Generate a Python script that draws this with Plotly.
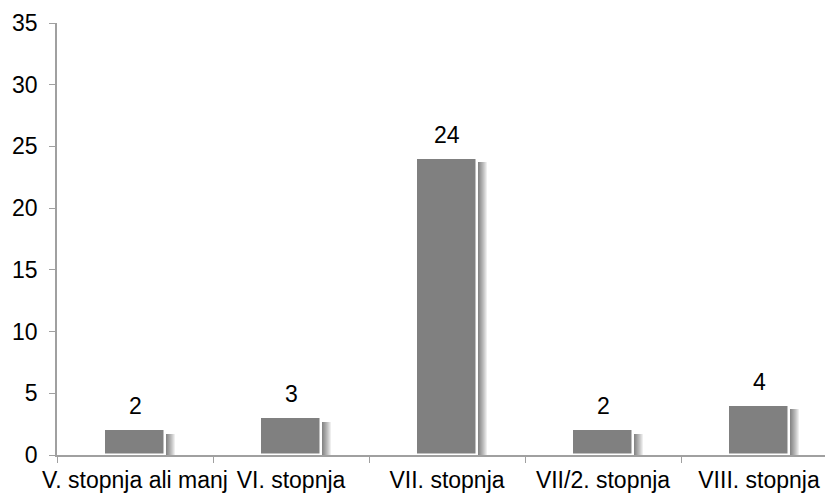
import plotly.graph_objects as go

categories = ["V. stopnja ali manj", "VI. stopnja", "VII. stopnja", "VII/2. stopnja", "VIII. stopnja"]
values = [2, 3, 24, 2, 4]
y_ticks = [0, 5, 10, 15, 20, 25, 30, 35]

FONT = "Liberation Sans, Arial, sans-serif"
FS = 23
BAR_W = 0.385            # bar width in category units
PX = 1 / 156.0           # one pixel in category units

fig = go.Figure()

# soft drop shadow to the right of each bar, built from layered translucent bars
for i in range(1, 10):
    fig.add_trace(go.Bar(
        x=categories,
        y=[v - 0.3 for v in values],
        width=i * PX,
        offset=BAR_W / 2 + PX,
        marker=dict(color="rgba(0,0,0,0.065)", line=dict(width=0)),
        hoverinfo="skip",
        showlegend=False,
    ))

fig.add_trace(go.Bar(
    x=categories,
    y=values,
    width=BAR_W,
    offset=-BAR_W / 2,
    marker=dict(color="#808080", line=dict(color="#ffffff", width=1.5)),
    showlegend=False,
))

for c, v in zip(categories, values):
    fig.add_annotation(
        x=c, y=v, text=str(v), showarrow=False,
        yanchor="bottom", yshift=9,
        font=dict(family=FONT, size=FS, color="#000000"),
    )

fig.update_layout(
    width=825, height=495,
    margin=dict(l=57, r=0, t=23, b=40),
    paper_bgcolor="white", plot_bgcolor="white",
    barmode="overlay",
    bargap=0,
    font=dict(family=FONT, size=FS, color="#000000"),
)

fig.update_xaxes(
    type="category",
    range=[-0.5, 4.423],
    showgrid=False,
    showline=True, linecolor="#a0a0a0", linewidth=1.5,
    ticks="outside", tickson="boundaries", ticklen=6, tickcolor="#a0a0a0",
    tickangle=0, automargin=False, ticklabelstandoff=4,
    tickfont=dict(family=FONT, size=FS, color="#000000"),
)

fig.update_yaxes(
    range=[0, 35],
    tickvals=y_ticks,
    showgrid=False, zeroline=False,
    showline=True, linecolor="#a0a0a0", linewidth=1.5,
    ticks="outside", ticklen=6, tickcolor="#a0a0a0",
    ticklabelstandoff=7, automargin=False,
    tickfont=dict(family=FONT, size=FS, color="#000000"),
)

fig.write_html("out.html")
